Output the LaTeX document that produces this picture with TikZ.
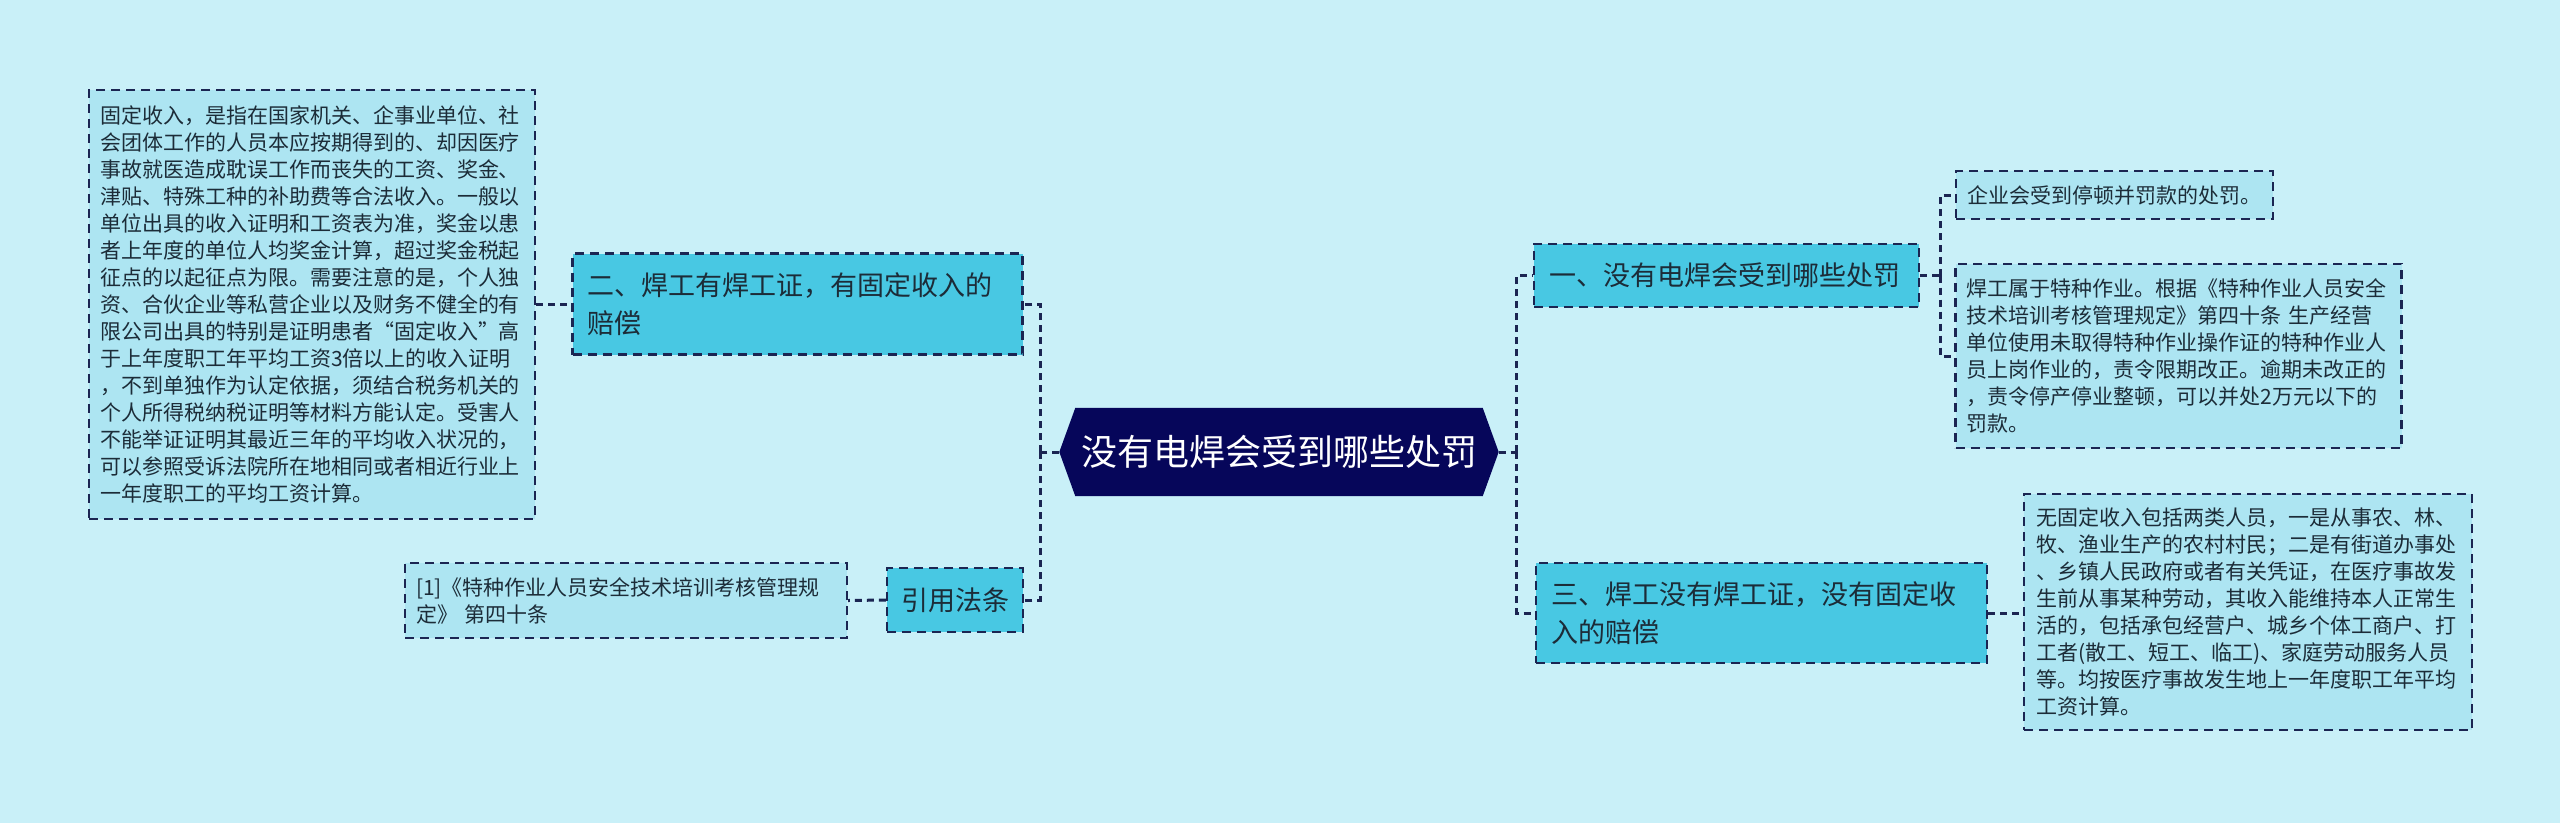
\documentclass[tikz,border=0pt]{standalone}
\usepackage{fontspec}
\setmainfont{Noto Sans CJK SC}
\usetikzlibrary{calc,backgrounds}
\definecolor{bgc}{HTML}{C9F0F8}
\definecolor{lvone}{HTML}{48C8E3}
\definecolor{leaf}{HTML}{ADE5F2}
\definecolor{navy}{HTML}{06065A}
\definecolor{edgec}{HTML}{1B2552}
\definecolor{txt}{HTML}{1C2C38}
\tikzset{
  box/.style={draw=edgec, line width=2.2pt, dash pattern=on 9pt off 6pt, text=txt, align=left, anchor=center, inner ysep=0pt},
  leafbox/.style={box, fill=leaf, font=\fontsize{21}{27}\selectfont, inner xsep=11pt},
  topicbox/.style={box, fill=lvone, font=\fontsize{27}{38}\selectfont, inner xsep=15pt},
  conn/.style={draw=edgec, line width=3pt, dash pattern=on 7pt off 5pt}
}
\begin{document}
\begin{tikzpicture}[x=1pt,y=-1pt]
\begin{scope}[on background layer]
\fill[bgc] (0,0) rectangle (2560,823);
\end{scope}
\useasboundingbox (0,0) rectangle (2560,823);

% centre
\node[minimum width=439pt, minimum height=88pt, inner sep=0pt, text=white, font=\fontsize{36}{40}\selectfont] (c) at (1279,452) {没有电焊会受到哪些处罚};
\begin{scope}[on background layer]
\fill[navy] (c.west) -- ([xshift=16pt]c.north west) -- ([xshift=-16pt]c.north east) -- (c.east) -- ([xshift=-16pt]c.south east) -- ([xshift=16pt]c.south west) -- cycle;
\end{scope}

% left side
\node[leafbox, minimum width=444pt, minimum height=429pt, text width=424pt] (big) at (312,304.5) {固定收入，是指在国家机关、企事业单位、社\\会团体工作的人员本应按期得到的、却因医疗\\事故就医造成耽误工作而丧失的工资、奖金、\\津贴、特殊工种的补助费等合法收入。一般以\\单位出具的收入证明和工资表为准，奖金以患\\者上年度的单位人均奖金计算，超过奖金税起\\征点的以起征点为限。需要注意的是，个人独\\资、合伙企业等私营企业以及财务不健全的有\\限公司出具的特别是证明患者“固定收入”高\\于上年度职工年平均工资3倍以上的收入证明\\，不到单独作为认定依据，须结合税务机关的\\个人所得税纳税证明等材料方能认定。受害人\\不能举证证明其最近三年的平均收入状况的，\\可以参照受诉法院所在地相同或者相近行业上\\一年度职工的平均工资计算。};
\node[topicbox, minimum width=450pt, minimum height=101pt, text width=420pt] (n2) at (797.5,304) {二、焊工有焊工证，有固定收入的\\赔偿};
\node[leafbox, minimum width=442pt, minimum height=75pt, text width=420pt] (cite) at (626,600.5) {[1]《特种作业人员安全技术培训考核管理规\\定》 第四十条};
\node[topicbox, minimum width=136pt, minimum height=64pt, inner xsep=0pt, align=center] (law) at (955,600) {引用法条};

% right side
\node[topicbox, minimum width=381pt, minimum height=63pt, text width=355pt] (n1) at (1726.5,275.5) {一、没有电焊会受到哪些处罚};
\node[topicbox, minimum width=451pt, minimum height=100pt, text width=421pt] (n3) at (1761.5,613) {三、焊工没有焊工证，没有固定收\\入的赔偿};
\node[leafbox, minimum width=317pt, minimum height=48pt, text width=295pt] (r1) at (2114.5,195) {企业会受到停顿并罚款的处罚。};
\node[leafbox, minimum width=445pt, minimum height=184pt, text width=424pt] (r2) at (2178.5,356) {焊工属于特种作业。根据《特种作业人员安全\\技术培训考核管理规定》第四十条 生产经营\\单位使用未取得特种作业操作证的特种作业人\\员上岗作业的，责令限期改正。逾期未改正的\\，责令停产停业整顿，可以并处2万元以下的\\罚款。};
\node[leafbox, minimum width=446pt, minimum height=236pt, text width=424pt, inner xsep=12pt] (r3) at (2248,612) {无固定收入包括两类人员，一是从事农、林、\\牧、渔业生产的农村村民；二是有街道办事处\\、乡镇人民政府或者有关凭证，在医疗事故发\\生前从事某种劳动，其收入能维持本人正常生\\活的，包括承包经营户、城乡个体工商户、打\\工者(散工、短工、临工)、家庭劳动服务人员\\等。均按医疗事故发生地上一年度职工年平均\\工资计算。};

% connectors
\coordinate (lj) at ($(c.west)+(-19pt,0)$);
\coordinate (rj) at ($(c.east)+(18pt,0)$);
\coordinate (sj) at ($(n1.east)+(20pt,0)$);
\draw[conn] (c.west) -- (lj);
\draw[conn] (lj) |- (n2.east);
\draw[conn] (lj) |- (law.east);
\draw[conn] (law.west) -- (cite.east);
\draw[conn] (big.east |- n2.west) -- (n2.west);
\draw[conn] (c.east) -- (rj);
\draw[conn] (rj) |- (n1.west);
\draw[conn] (rj) |- (n3.west);
\draw[conn] (n1.east) -- (sj);
\draw[conn] (sj) |- (r1.west);
\draw[conn] (sj) |- (r2.west);
\draw[conn] (n3.east) -- (r3.west |- n3.east);
\end{tikzpicture}
\end{document}
